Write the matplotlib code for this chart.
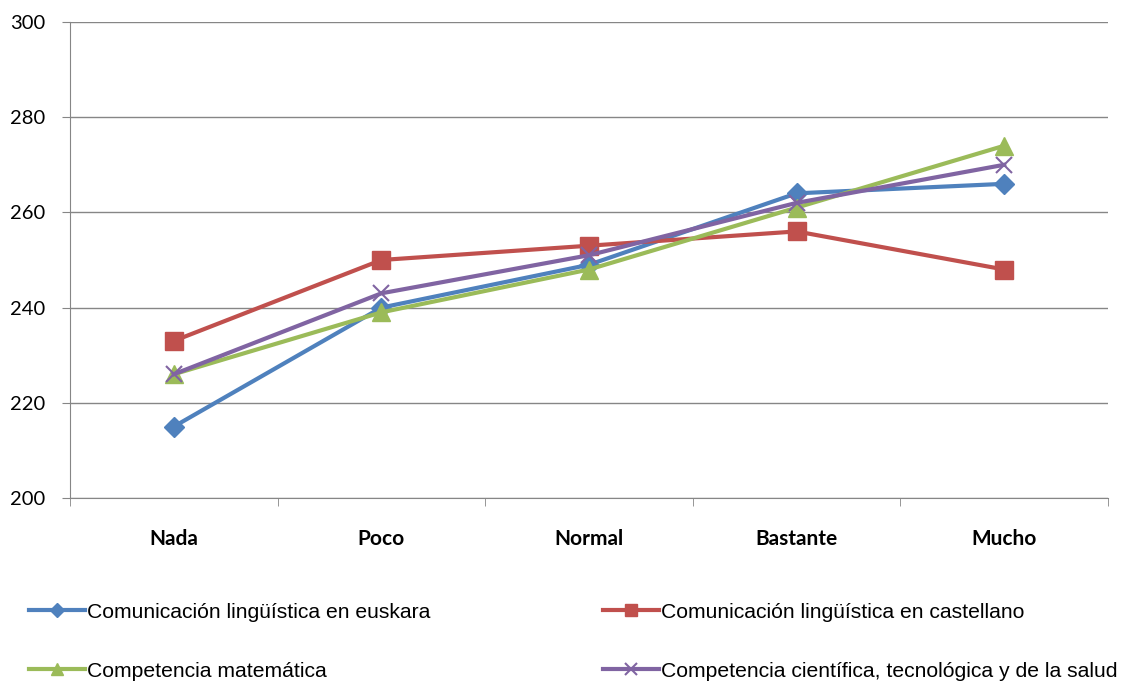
import matplotlib.pyplot as plt

plt.rcParams['font.family'] = ['Liberation Sans', 'DejaVu Sans']

categorias = ["Nada", "Poco", "Normal", "Bastante", "Mucho"]
euskara = [215, 240, 249, 264, 266]
castellano = [233, 250, 253, 256, 248]
matematica = [226, 239, 248, 261, 274]
cientifica = [226, 243, 251, 262, 270]

fig = plt.figure(figsize=(11.26, 6.83), dpi=100)
ax = fig.add_axes([0.0622, 0.2709, 0.9218, 0.6969])

x = list(range(len(categorias)))
l1, = ax.plot(x, euskara, '-D', color='#4F81BD', lw=3, ms=10,
              label="Comunicación lingüística en euskara")
l2, = ax.plot(x, castellano, '-s', color='#C0504D', lw=3, ms=13,
              label="Comunicación lingüística en castellano")
l3, = ax.plot(x, matematica, '-^', color='#9BBB59', lw=3, ms=13,
              label="Competencia matemática")
l4, = ax.plot(x, cientifica, '-x', color='#8064A2', lw=3, ms=12, mew=1.5,
              label="Competencia científica, tecnológica y de la salud")

ax.set_xlim(-0.5, 4.5)
ax.set_ylim(200, 300)
ax.set_yticks([200, 220, 240, 260, 280, 300])
ax.yaxis.grid(True, color='#868686', lw=1)
ax.set_axisbelow(True)

# category labels centred, tick marks on the boundaries
ax.set_xticks(x)
ax.set_xticklabels(categorias, fontweight='bold', fontsize=15, family='Lato')
ax.tick_params(axis='x', length=0, pad=22)
ax.set_xticks([i - 0.5 for i in range(len(categorias) + 1)], minor=True)
ax.tick_params(axis='x', which='minor', length=6, direction='out', color='#868686')
ax.tick_params(axis='y', labelsize=14.5, length=6, color='#868686', pad=12)
for t in ax.get_yticklabels():
    t.set_family('Lato')

for s in ['top', 'right']:
    ax.spines[s].set_visible(False)
for s in ['left', 'bottom']:
    ax.spines[s].set_color('#868686')

fig.legend([l1, l3, l2, l4], [l.get_label() for l in [l1, l3, l2, l4]],
           ncol=2, loc='upper left', bbox_to_anchor=(0.018, 0.13),
           frameon=False, fontsize=15.2, handlelength=2.65, handletextpad=0.1,
           columnspacing=8.2, labelspacing=1.9, borderaxespad=0,
           markerscale=0.7)

fig.savefig("out.png", dpi=100)
